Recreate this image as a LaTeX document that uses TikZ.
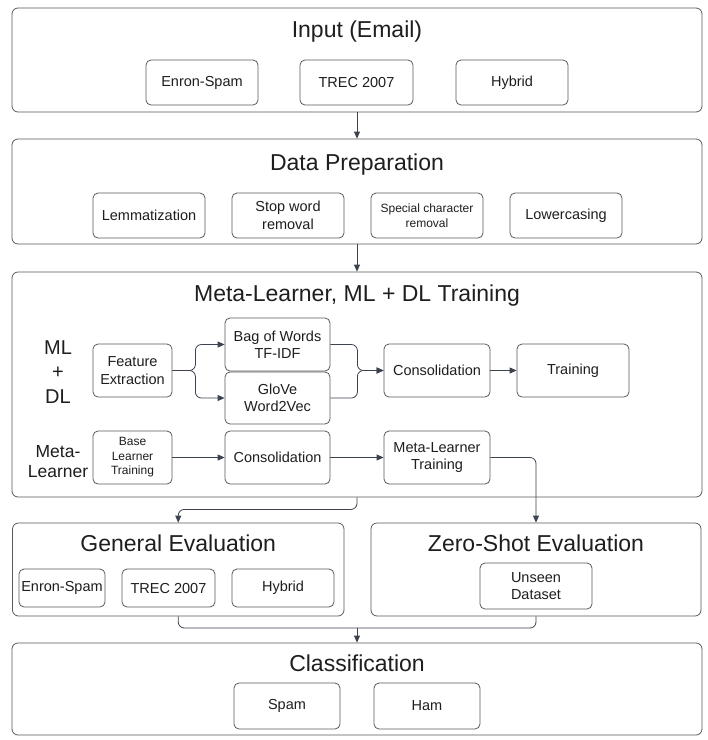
\documentclass[tikz,border=0pt]{standalone}
\usepackage{fontspec}
\setmainfont{Liberation Sans}
\usetikzlibrary{arrows.meta}
\definecolor{bordc}{HTML}{5A5A5A}
\definecolor{arrc}{HTML}{3C4250}
\definecolor{txtc}{HTML}{1E1E1E}
\tikzset{
  outer/.style={draw=bordc, line width=0.8pt, rounded corners=6pt, fill=white, inner sep=0pt},
  inner/.style={draw=bordc, line width=0.8pt, rounded corners=5pt, fill=white, inner sep=1pt, align=center, text=txtc, font=\fontsize{14.5}{17.5}\selectfont},
  small/.style={font=\fontsize{12}{14.5}\selectfont},
  ttl/.style={text=txtc, font=\fontsize{23}{26}\selectfont, inner sep=0pt},
  side/.style={text=txtc, align=center, inner sep=0pt},
  arr/.style={draw=arrc, line width=0.8pt, -{Triangle[length=7pt,width=6pt]}},
  ln/.style={draw=arrc, line width=0.8pt},
}
\begin{document}
\begin{tikzpicture}[x=1pt,y=-1pt]
\fill[white] (0,0) rectangle (708,740);
\useasboundingbox (0,0) rectangle (708,740);

% Outer boxes
\node[outer, minimum width=690pt, minimum height=104pt] (inp) at (357,60) {};
\node[outer, minimum width=690pt, minimum height=105pt] (prep) at (357,191.5) {};
\node[outer, minimum width=690pt, minimum height=225pt] (meta) at (357,384.5) {};
\node[outer, minimum width=331.5pt, minimum height=93pt] (gen) at (178.25,569.5) {};
\node[outer, minimum width=330pt, minimum height=93pt] (zero) at (536,569.5) {};
\node[outer, minimum width=690pt, minimum height=92pt] (cls) at (357,689) {};

% Titles
\node[ttl] (tinp) at (357,32) {Input (Email)};
\node[ttl] (tprep) at (357,165) {Data Preparation};
\node[ttl] (tmeta) at (357,296) {Meta-Learner, ML + DL Training};
\node[ttl] (tgen) at (178.25,543) {General Evaluation};
\node[ttl] (tzero) at (536,543) {Zero-Shot Evaluation};
\node[ttl] (tcls) at (357,663) {Classification};

% Input
\node[inner, minimum width=112pt, minimum height=45pt] (i1) at (202,82.5) {Enron-Spam};
\node[inner, minimum width=113pt, minimum height=45pt] (i2) at (356.5,82.5) {TREC 2007};
\node[inner, minimum width=112pt, minimum height=45pt] (i3) at (512,82.5) {Hybrid};

% Data preparation
\node[inner, minimum width=112pt, minimum height=45pt] (p1) at (149,215.5) {Lemmatization};
\node[inner, minimum width=112pt, minimum height=45pt] (p2) at (288,215.5) {Stop word\\removal};
\node[inner, small, minimum width=112pt, minimum height=45pt] (p3) at (427,215.5) {Special character\\removal};
\node[inner, minimum width=112pt, minimum height=45pt] (p4) at (566,215.5) {Lowercasing};

% Meta-learner, ML + DL
\node[side, font=\fontsize{20}{24.5}\selectfont] (lml) at (58,372) {ML\\+\\DL};
\node[side, font=\fontsize{17.5}{20}\selectfont] (lmeta) at (58,462) {Meta-\\Learner};
\node[inner, minimum width=79pt, minimum height=53pt] (fe) at (132.5,370.5) {Feature\\Extraction};
\node[inner, minimum width=105pt, minimum height=53pt] (bow) at (277.5,344.5) {Bag of Words\\TF-IDF};
\node[inner, minimum width=105pt, minimum height=52pt] (glove) at (277.5,398) {GloVe\\Word2Vec};
\node[inner, minimum width=106pt, minimum height=53pt] (cons1) at (437,370.5) {Consolidation};
\node[inner, minimum width=112pt, minimum height=53pt] (train) at (573,370.5) {Training};
\node[inner, small, minimum width=79pt, minimum height=53pt] (blt) at (132.5,457.5) {Base\\Learner\\Training};
\node[inner, minimum width=105pt, minimum height=53pt] (cons2) at (277.5,457.5) {Consolidation};
\node[inner, minimum width=106pt, minimum height=53pt] (mlt) at (437,457.5) {Meta-Learner\\Training};

% General evaluation
\node[inner, minimum width=86pt, minimum height=38pt] (g1) at (62,588) {Enron-Spam};
\node[inner, minimum width=93pt, minimum height=38pt] (g2) at (168.5,588) {TREC 2007};
\node[inner, minimum width=102pt, minimum height=38pt] (g3) at (283,588) {Hybrid};
\node[inner, minimum width=112pt, minimum height=46pt] (z1) at (536,586) {Unseen\\Dataset};

% Classification
\node[inner, minimum width=106pt, minimum height=46pt] (c1) at (287,706) {Spam};
\node[inner, minimum width=106pt, minimum height=46pt] (c2) at (427,706) {Ham};

% Connectors
\draw[arr] (inp.south) -- (prep.north);
\draw[arr] (prep.south) -- (meta.north);
\draw[arr, rounded corners=6pt] (fe.east) -- ++(23,0) |- (bow.west);
\draw[arr, rounded corners=6pt] (fe.east) -- ++(23,0) |- (glove.west);
\draw[arr, rounded corners=6pt] (bow.east) -- ++(27,0) |- (cons1.west);
\draw[arr, rounded corners=6pt] (glove.east) -- ++(27,0) |- (cons1.west);
\draw[arr] (cons1.east) -- (train.west);
\draw[arr] (blt.east) -- (cons2.west);
\draw[arr] (cons2.east) -- (mlt.west);
\draw[arr, rounded corners=6pt] (mlt.east) -| (zero.north);
\draw[arr, rounded corners=6pt] (meta.south) -- ++(0,12) -| (gen.north);
\coordinate (mid) at (357,628);
\draw[ln, rounded corners=6pt] (gen.south) |- (mid) -| (zero.south);
\draw[arr] (mid) -- (cls.north);
\end{tikzpicture}
\end{document}
